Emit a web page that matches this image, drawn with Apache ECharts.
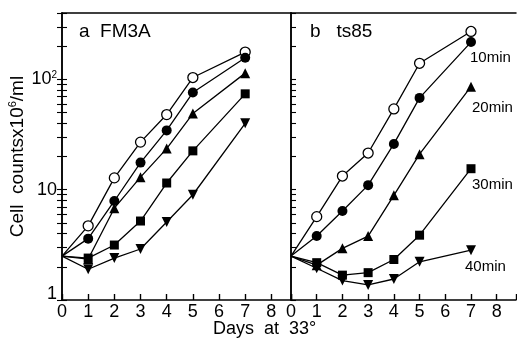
<!DOCTYPE html>
<html>
<head>
<meta charset="utf-8">
<script src="https://cdn.jsdelivr.net/npm/echarts@6/dist/echarts.min.js"></script>
<style>
  html, body { margin: 0; padding: 0; background: #fff; }
  #chart { width: 517px; height: 346px; }
</style>
</head>
<body>
<div id="chart"></div>
<script>
// days sampled
var days = [0, 1, 2, 3, 4, 5, 7];
var xTicks = [0, 1, 2, 3, 4, 5, 6, 7, 8];
var yTicks = [1, 2, 3, 4, 5, 6, 7, 8, 9, 10, 20, 30, 40, 50, 60, 70, 80, 90, 100, 200, 300, 400];
var yLabels = [1, 10, 100];

// panel a: FM3A
var aOpen   = [2.5, 4.7, 12.8, 27, 48, 104, 177];
var aCircle = [2.5, 3.6, 7.9, 17.6, 34.5, 76, 157];
var aTri    = [2.5, 2.35, 6.8, 13, 23.6, 49, 114];
var aSquare = [2.5, 2.4, 3.15, 5.2, 11.5, 22.5, 74];
var aInv    = [2.5, 1.9, 2.4, 2.9, 5.1, 9.0, 40];

// panel b: ts85
var bOpen   = [2.5, 5.7, 13.3, 21.5, 54, 140, 272];
var bCircle = [2.5, 3.8, 6.4, 11, 26, 68, 218];
var bTri    = [2.5, 2.07, 2.94, 3.8, 8.9, 21, 86];
var bSquare = [2.5, 2.18, 1.68, 1.77, 2.33, 3.87, 15.5];
var bInv    = [2.5, 1.94, 1.5, 1.37, 1.55, 2.22, 2.83];

var curveNames = ['10min', '20min', '30min', '40min'];

var FONT = 'Liberation Sans';
var LINE = { color: '#000', width: 1.5 };

function pts(vals) {
    return days.map(function (d, i) {
        // no marker at day 0, lines just start there
        if (i === 0) return { value: [d, vals[i]], symbol: 'none' };
        return [d, vals[i]];
    });
}

function mkSeries(vals, idx, symbol, open, rot) {
    return {
        type: 'line',
        xAxisIndex: idx === 0 ? 0 : 2,
        yAxisIndex: idx === 0 ? 0 : 2,
        data: pts(vals),
        symbol: symbol,
        symbolSize: symbol === 'rect' ? 9 : 10,
        symbolRotate: rot || 0,
        showAllSymbol: true,
        lineStyle: { color: '#000', width: 1.3 },
        itemStyle: open ? { color: '#fff', borderColor: '#000', borderWidth: 1.3 } : { color: '#000' },
        z: open ? 3 : 4,
        animation: false
    };
}

function xAxis(gi) {
    return {
        type: 'value', gridIndex: gi, min: 0, max: 8.75, interval: 1,
        axisLine: { show: true, lineStyle: LINE },
        axisTick: { show: true, inside: true, length: 6, lineStyle: { color: '#000', width: 1.4 } },
        axisLabel: { customValues: xTicks, color: '#000', fontSize: 18, fontFamily: FONT, margin: 3 },
        splitLine: { show: false }
    };
}

// plain frame line (top / right edge)
function frameX(gi) {
    return {
        type: 'value', gridIndex: gi, min: 0, max: 8.75, position: 'top',
        axisLine: { show: true, lineStyle: LINE },
        axisTick: { show: false }, axisLabel: { show: false }, splitLine: { show: false }
    };
}

function yAxis(gi, pos, labels, ticks) {
    return {
        type: 'log', logBase: 10, gridIndex: gi, min: 1, max: 400, position: pos,
        axisLine: { show: true, lineStyle: LINE },
        axisTick: ticks ? { show: true, inside: true, length: 5, customValues: yTicks, lineStyle: { color: '#000', width: 1.1 } } : { show: false },
        axisLabel: labels ? {
            customValues: yLabels, color: '#000', fontSize: 18, fontFamily: FONT, margin: 5,
            formatter: function (v) {
                if (v >= 100) return '10{sup|2}';
                if (v === 1) return '{one|1}';
                return String(v);
            },
            rich: {
                sup: { fontSize: 10, verticalAlign: 'top', padding: [0, 0, 9, 0], fontFamily: FONT },
                one: { fontSize: 18, fontFamily: FONT, padding: [0, 0, 12, 0] }
            }
        } : { show: false },
        splitLine: { show: false },
        name: labels ? 'Cell  countsx10{sup|6}/ml' : '',
        nameLocation: 'middle',
        nameGap: 33,
        nameTextStyle: labels ? {
            color: '#000', fontSize: 19, fontFamily: FONT,
            rich: { sup: { fontSize: 11, padding: [0, 0, 10, 0], fontFamily: FONT } }
        } : {}
    };
}

var chart = echarts.init(document.getElementById('chart'), null, { renderer: 'canvas' });

var option = {
    backgroundColor: '#fff',
    animation: false,
    grid: [
        { left: 62, top: 13, width: 229, height: 287 },
        { left: 291, top: 13, width: 225, height: 287 }
    ],
    xAxis: [xAxis(0), frameX(0), xAxis(1), frameX(1)],
    yAxis: [
        yAxis(0, 'left', true, true),
        yAxis(0, 'right', false, true),
        yAxis(1, 'left', false, true),
        yAxis(1, 'right', false, false)
    ],
    series: [
        mkSeries(aOpen, 0, 'circle', true),
        mkSeries(aCircle, 0, 'circle', false),
        mkSeries(aTri, 0, 'triangle', false),
        mkSeries(aSquare, 0, 'rect', false),
        mkSeries(aInv, 0, 'triangle', false, 180),
        mkSeries(bOpen, 1, 'circle', true),
        mkSeries(bCircle, 1, 'circle', false),
        mkSeries(bTri, 1, 'triangle', false),
        mkSeries(bSquare, 1, 'rect', false),
        mkSeries(bInv, 1, 'triangle', false, 180)
    ],
    graphic: [
        { type: 'text', left: 79, top: 22, style: { text: 'a  FM3A', fill: '#000', font: '19px "' + FONT + '"' } },
        { type: 'text', left: 310, top: 22, style: { text: 'b   ts85', fill: '#000', font: '19px "' + FONT + '"' } },
        { type: 'text', left: 213, top: 320, style: { text: 'Days  at  33°', fill: '#000', font: '18px "' + FONT + '"' } },
        { type: 'text', left: 470, top: 50, style: { text: curveNames[0], fill: '#000', font: '15px "' + FONT + '"' } },
        { type: 'text', left: 472, top: 100, style: { text: curveNames[1], fill: '#000', font: '15px "' + FONT + '"' } },
        { type: 'text', left: 472, top: 177, style: { text: curveNames[2], fill: '#000', font: '15px "' + FONT + '"' } },
        { type: 'text', left: 465, top: 259, style: { text: curveNames[3], fill: '#000', font: '15px "' + FONT + '"' } }
    ]
};

chart.setOption(option);
</script>
</body>
</html>
